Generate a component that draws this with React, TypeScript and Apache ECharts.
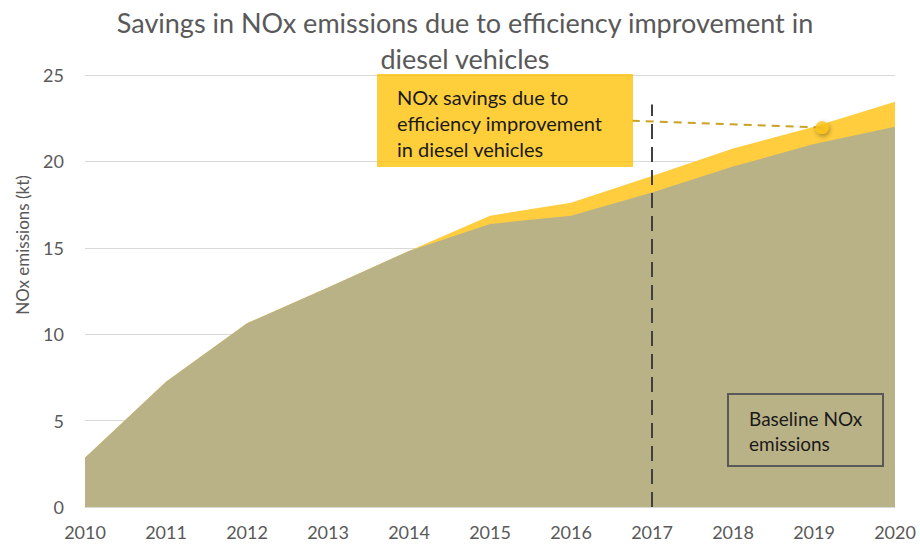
import React, { useEffect, useRef } from "react";
import * as echarts from "echarts";

const years = [2010, 2011, 2012, 2013, 2014, 2015, 2016, 2017, 2018, 2019, 2020];
const baseline = [2.85, 7.25, 10.63, 12.7, 14.82, 16.38, 16.86, 18.2, 19.7, 21.0, 22.0];
const savings = [0, 0, 0, 0, 0, 0.48, 0.74, 0.96, 1.05, 1.0, 1.45];
const yTicks = { min: 0, max: 25, interval: 5 };
const titleLines = ["Savings in NOx emissions due to efficiency improvement in", "diesel vehicles"];
const yAxisTitle = "NOx emissions (kt)";
const savingsLabel = "NOx savings due to\nefficiency improvement\nin diesel vehicles";
const baselineLabel = "Baseline NOx\nemissions";
const markerYear = 2017;
const markerTop = 23.3;
const calloutPoint = [2019.1, 21.96];
const calloutStart = [2016.75, 22.35];

const FONT = "Lato, 'Open Sans', sans-serif";

export default function App() {
  const ref = useRef<HTMLDivElement>(null);
  useEffect(() => {
    if (!ref.current) return;
    const chart = echarts.init(ref.current, undefined, { renderer: "svg" });
    const totals = years.map((y, i) => [y, baseline[i] + savings[i]]);
    chart.setOption({
      animation: false,
      backgroundColor: "#ffffff",
      textStyle: { fontFamily: FONT },
      grid: { left: 85, right: 25, top: 75, bottom: 38 },
      xAxis: {
        type: "value",
        min: 2010,
        max: 2020,
        interval: 1,
        axisLine: { show: true, lineStyle: { color: "#d9d9d9" } },
        axisTick: { show: false },
        splitLine: { show: false },
        axisLabel: {
          color: "#595959",
          fontSize: 18,
          fontFamily: FONT,
          margin: 16,
          formatter: (v: number) => String(v),
        },
      },
      yAxis: {
        type: "value",
        min: yTicks.min,
        max: yTicks.max,
        interval: yTicks.interval,
        axisLine: { show: false },
        axisTick: { show: false },
        splitLine: { show: true, lineStyle: { color: "#d9d9d9", width: 1 } },
        axisLabel: { color: "#595959", fontSize: 18, fontFamily: FONT, margin: 21 },
      },
      series: [
        {
          name: "NOx savings",
          type: "line",
          data: totals,
          symbol: "none",
          lineStyle: { width: 0 },
          areaStyle: { color: "#FFCD3E", opacity: 1 },
          z: 2,
          markLine: {
            silent: true,
            symbol: "none",
            label: { show: false },
            lineStyle: { color: "#C9A227", width: 2, type: [8, 6] },
            data: [[{ coord: calloutStart }, { coord: calloutPoint }]],
          },
        },
        {
          name: "Baseline NOx emissions",
          type: "line",
          data: years.map((y, i) => [y, baseline[i]]),
          symbol: "none",
          lineStyle: { width: 0 },
          areaStyle: { color: "#BAB287", opacity: 1 },
          z: 3,
          markLine: {
            silent: true,
            symbol: "none",
            label: { show: false },
            lineStyle: { color: "#404040", width: 2, type: [15, 8] },
            data: [[{ coord: [markerYear, 0] }, { coord: [markerYear, markerTop] }]],
          },
        },
        {
          type: "scatter",
          data: [calloutPoint],
          symbolSize: 13,
          itemStyle: {
            color: "#FFC61A",
            shadowBlur: 5,
            shadowColor: "rgba(0,0,0,0.45)",
            shadowOffsetX: 1,
            shadowOffsetY: 2,
          },
          z: 5,
        },
      ],
      graphic: [
        {
          type: "text",
          x: 465,
          y: 22,
          z: 100,
          style: {
            text: titleLines[0],
            font: `27px ${FONT}`,
            fill: "#595959",
            textAlign: "center",
            textVerticalAlign: "middle",
          },
        },
        {
          type: "text",
          x: 465,
          y: 58,
          z: 100,
          style: {
            text: titleLines[1],
            font: `27px ${FONT}`,
            fill: "#595959",
            textAlign: "center",
            textVerticalAlign: "middle",
          },
        },
        {
          type: "text",
          x: 22,
          y: 245,
          rotation: Math.PI / 2,
          z: 100,
          style: {
            text: yAxisTitle,
            font: `17px ${FONT}`,
            fill: "#595959",
            textAlign: "center",
            textVerticalAlign: "middle",
          },
        },
        {
          type: "rect",
          z: 100,
          shape: { x: 377, y: 74, width: 256, height: 93 },
          style: { fill: "rgba(255,192,0,0.77)" },
        },
        {
          type: "text",
          x: 397,
          y: 84,
          z: 101,
          style: {
            text: savingsLabel,
            font: `20px ${FONT}`,
            fill: "#1a1a1a",
            lineHeight: 26,
          },
        },
        {
          type: "rect",
          z: 100,
          shape: { x: 728, y: 394, width: 155, height: 72 },
          style: { fill: "none", stroke: "#595959", lineWidth: 2 },
        },
        {
          type: "text",
          x: 749,
          y: 406,
          z: 101,
          style: {
            text: baselineLabel,
            font: `19px ${FONT}`,
            fill: "#1a1a1a",
            lineHeight: 25,
          },
        },
      ],
    });
    return () => chart.dispose();
  }, []);
  return (
    <div
      ref={ref}
      style={{ position: "fixed", left: 0, top: 0, width: 920, height: 545, background: "#fff" }}
    />
  );
}
